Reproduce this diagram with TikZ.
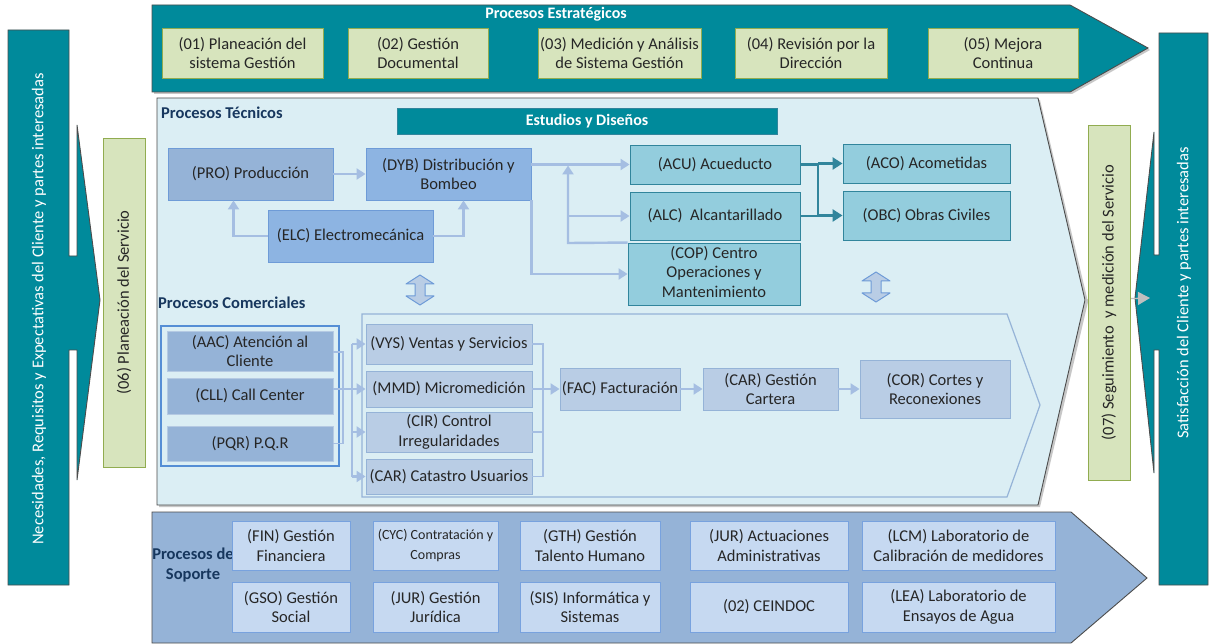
\documentclass[tikz,border=0pt]{standalone}
\usepackage{fontspec}
\setmainfont{Carlito}
\usetikzlibrary{arrows.meta,calc}
\definecolor{tealc}{RGB}{0,138,155}
\definecolor{greenf}{RGB}{215,228,189}
\definecolor{greenb}{RGB}{145,172,80}
\definecolor{techf}{RGB}{219,238,244}
\definecolor{prof}{RGB}{149,179,215}
\definecolor{dybf}{RGB}{141,180,226}
\definecolor{blueb}{RGB}{110,155,215}
\definecolor{tboxf}{RGB}{147,205,221}
\definecolor{tboxb}{RGB}{49,133,156}
\definecolor{midf}{RGB}{185,205,229}
\definecolor{midb}{RGB}{149,179,215}
\definecolor{supf}{RGB}{149,179,215}
\definecolor{sboxf}{RGB}{198,217,241}
\definecolor{sboxb}{RGB}{120,162,222}
\definecolor{arrc}{RGB}{165,190,226}
\definecolor{txt}{RGB}{38,38,38}
\definecolor{navy}{RGB}{23,55,94}
\definecolor{grpb}{RGB}{85,142,213}
\newcommand\fs{\fontsize{16.5}{19.5}\selectfont}
\newcommand\bx[6]{\node[#1, minimum width={#4-#2}, minimum height={#5-#3}] (#6) at ({(#2+#4)/2},{(#3+#5)/2})}
\newcommand\dblarrow[3]{\draw[fill=midf,draw=blueb,line width=1pt,line join=round]
  (#1,#2) -- ({#1+14},{#2+9}) -- ({#1+5},{#2+9}) -- ({#1+5},{#3-9}) -- ({#1+14},{#3-9}) -- (#1,#3)
  -- ({#1-14},{#3-9}) -- ({#1-5},{#3-9}) -- ({#1-5},{#2+9}) -- ({#1-14},{#2+9}) -- cycle;}
\begin{document}
\begin{tikzpicture}[x=1pt,y=-1pt,
  base/.style={align=center,text=txt,inner sep=1pt,font=\fs,line width=0.9pt},
  gbox/.style={base,fill=greenf,draw=greenb},
  pbox/.style={base,fill=prof,draw=blueb},
  dbox/.style={base,fill=dybf,draw=blueb},
  tbox/.style={base,fill=tboxf,draw=tboxb},
  cbox/.style={base,fill=prof,draw=prof!70!white},
  mbox/.style={base,fill=midf,draw=midb},
  sbox/.style={base,fill=sboxf,draw=sboxb},
  lbline/.style={draw=arrc,line width=2.4pt},
  lbarrow/.style={lbline,-{Triangle[length=9pt,width=11pt]}},
  thin/.style={draw=arrc,line width=1.4pt},
  dkline/.style={draw=tboxb,line width=2.6pt},
  dkarrow/.style={dkline,-{Triangle[length=10pt,width=12pt]}},
  title/.style={font=\fontsize{16.5}{19.5}\selectfont\bfseries,text=navy,inner sep=0pt},
  shadow/.style={fill=black!22,draw=none},
  outl/.style={draw=black!70,line width=0.9pt}
]
\useasboundingbox (0,0) rectangle (1213,644);
\fill[white] (0,0) rectangle (1213,644);

% ---- left bar
\draw[outl,fill=tealc] (8,30) -- (69,30) -- (69,256) -- (77,256) -- (77,125) -- (100,300) -- (77,480) -- (77,350) -- (69,350) -- (69,585) -- (8,585) -- cycle;
\node[rotate=90,text=white,font=\fs,inner sep=0pt] (necesidades) at (39,309) {Necesidades, Requisitos y Expectativas del Cliente y partes interesadas};

% ---- right bar
\draw[outl,fill=tealc] (1208,33) -- (1159,33) -- (1159,255) -- (1154,255) -- (1154,132) -- (1135,298) -- (1154,473) -- (1154,350) -- (1159,350) -- (1159,585) -- (1208,585) -- cycle;
\node[rotate=90,text=white,font=\fs,inner sep=0pt] (satisf) at (1184,293) {Satisfacción del Cliente y partes interesadas};

% ---- strategic chevron
\path[shadow] (154,7) -- (1072,7) -- (1150,50) -- (1072,94) -- (154,94) -- cycle;
\draw[outl,fill=tealc] (152,5) -- (1070,5) -- (1148,48) -- (1070,92) -- (152,92) -- cycle;
\node[font=\fontsize{16}{19}\selectfont\bfseries,text=white,inner sep=0pt] (estrat) at (556,14) {Procesos Estratégicos};
\bx{gbox}{162}{28}{323}{78}{s01} {(01) Planeación del\\sistema Gestión};
\bx{gbox}{348}{28}{488}{78}{s02} {(02) Gestión\\Documental};
\bx{gbox}{538}{28}{701}{78}{s03} {(03) Medición y Análisis\\de Sistema Gestión};
\bx{gbox}{735}{28}{887}{78}{s04} {(04) Revisión por la\\Dirección};
\bx{gbox}{928}{28}{1078}{78}{s05} {(05) Mejora\\Continua};

% ---- technical chevron
\path[shadow] (159,100) -- (1040,100) -- (1088,302) -- (1040,507) -- (159,507) -- cycle;
\draw[outl,fill=techf] (157,98) -- (1038,98) -- (1085,300) -- (1038,505) -- (157,505) -- cycle;
\coordinate (ttip) at (1085,300);

% gray connector to right bar
\draw[draw=black!25,line width=1.3pt,-{Triangle[length=12pt,width=13pt]}] (ttip) -- (1150,298);

% (06) and (07)
\bx{gbox}{103}{138}{145}{467}{s06} {};
\node[rotate=90,font=\fs,text=txt,inner sep=0pt] (s06t) at (s06) {(06) Planeación del Servicio};
\bx{gbox}{1088}{125}{1130}{480}{s07} {};
\node[rotate=90,font=\fs,text=txt,inner sep=0pt] (s07t) at (s07) {(07) Seguimiento\ \ y medición del Servicio};

\node[title,anchor=west] (ptec) at (161,113) {Procesos Técnicos};
\bx{base,fill=tealc,draw=tboxb,text=white,font=\fontsize{16}{19}\selectfont\bfseries}{397}{108}{777}{134}{estudios} {Estudios y Diseños};

\bx{pbox}{168}{148}{333}{200}{PRO} {(PRO) Producción};
\bx{dbox}{366}{148}{531}{200}{DYB} {(DYB) Distribución y\\Bombeo};
\bx{dbox}{268}{210}{433}{262}{ELC} {(ELC) Electromecánica};

\bx{tbox}{630}{145}{800}{184}{ACU} {(ACU) Acueducto};
\bx{tbox}{630}{192}{800}{240}{ALC} {(ALC)\ \ Alcantarillado};
\bx{tbox}{628}{243}{800}{305}{COP} {\raisebox{-7pt}{\begin{tabular}{@{}c@{}}(COP) Centro\\Operaciones y\\Mantenimiento\end{tabular}}};
\bx{tbox}{843}{144}{1010}{183}{ACO} {(ACO) Acometidas};
\bx{tbox}{843}{191}{1010}{240}{OBC} {(OBC) Obras Civiles};

% technical connectors
\draw[lbarrow] (PRO.east) -- (DYB.west);
\draw[lbarrow] (ELC.west) -| ([xshift=-17pt]PRO.south);
\draw[lbarrow] (ELC.east) -| ([xshift=15pt]DYB.south);
\draw[lbarrow] (DYB.east |- ACU.west) -- (ACU.west);
\coordinate (vj) at (568,243);
\draw[lbarrow] (COP.north west) -- (vj) -- ([yshift=-1pt]vj |- ACU.west);
\draw[lbarrow] (vj |- ALC.west) -- (ALC.west);
\draw[lbarrow] (DYB.south east) |- (COP.west);
\coordinate (tj) at (818,0);
\draw[dkline] (ACU.east) -- (tj |- ACU.east);
\draw[dkline] (ALC.east) -- (tj |- ALC.east);
\draw[dkline] (tj |- ACU.east) -- (tj |- OBC.west);
\draw[dkarrow] (tj |- ACO.west) -- (ACO.west);
\draw[dkarrow] (tj |- OBC.west) -- (OBC.west);

\dblarrow{420}{275}{305}
\dblarrow{876}{272}{302}

% ---- commercial
\node[title,anchor=west] (pcom) at (158,303) {Procesos Comerciales};
\draw[fill=techf,draw=midb,line width=1.2pt] (362,314) -- (1007,314) -- (1040,405) -- (1007,497) -- (362,497) -- cycle;
\draw[draw=grpb,line width=1.1pt] (161,326) rectangle (339,466);
\bx{cbox}{167}{331}{333}{371}{AAC} {(AAC) Atención al\\Cliente};
\bx{cbox}{167}{378}{333}{414}{CLL} {(CLL) Call Center};
\bx{cbox}{167}{426}{333}{461}{PQR} {(PQR) P.Q.R};

\bx{mbox}{366}{324}{532}{364}{VYS} {(VYS) Ventas y Servicios};
\bx{mbox}{366}{371}{532}{407}{MMD} {(MMD) Micromedición};
\bx{mbox}{366}{412}{532}{452}{CIR} {(CIR) Control\\Irregularidades};
\bx{mbox}{366}{459}{532}{494}{CAT} {(CAR) Catastro Usuarios};

\bx{mbox}{560}{368}{680}{410}{FAC} {(FAC) Facturación};
\bx{mbox}{703}{368}{838}{410}{CARG} {(CAR) Gestión\\Cartera};
\bx{mbox}{860}{360}{1010}{418}{COR} {(COR) Cortes y\\Reconexiones};

\coordinate (c1) at (343,0);
\coordinate (c2) at (352,0);
\coordinate (c3) at (543,0);
\draw[thin] (AAC.east |- 0,352) -- (c1 |- 0,352) -- (c1 |- PQR.east) -- (PQR.east);
\draw[lbarrow] (CLL.east |- MMD.west) -- (MMD.west);
\draw[thin] (c2 |- VYS.west) -- (c2 |- CAT.west);
\draw[lbarrow] (c2 |- VYS.west) -- (VYS.west);
\draw[lbarrow] (c2 |- CIR.west) -- (CIR.west);
\draw[lbarrow] (c2 |- CAT.west) -- (CAT.west);
\draw[thin] (VYS.east) -- (c3 |- VYS.east) -- (c3 |- CAT.east) -- (CAT.east);
\draw[thin] (CIR.east) -- (c3 |- CIR.east);
\draw[lbarrow] (MMD.east) -- (FAC.west);
\draw[lbarrow] (FAC.east) -- (CARG.west);
\draw[lbarrow] (CARG.east) -- (COR.west);

% ---- support chevron
\draw[outl,fill=supf] (152,512) -- (1071,512) -- (1147,578) -- (1071,643) -- (152,643) -- cycle;
\node[title,align=center] (psop) at (193,565) {Procesos de\\Soporte};
\bx{sbox}{232}{521}{350}{570}{FIN} {(FIN) Gestión\\Financiera};
\bx{sbox}{373}{521}{498}{570}{CYC} {\fontsize{14}{19}\selectfont(CYC) Contratación y\\\fontsize{14}{19}\selectfont Compras};
\bx{sbox}{520}{521}{660}{570}{GTH} {(GTH) Gestión\\Talento Humano};
\bx{sbox}{690}{521}{848}{570}{JURA} {(JUR) Actuaciones\\Administrativas};
\bx{sbox}{862}{521}{1055}{570}{LCM} {(LCM) Laboratorio de\\Calibración de medidores};
\bx{sbox}{232}{582}{350}{632}{GSO} {(GSO) Gestión\\Social};
\bx{sbox}{373}{582}{498}{632}{JUR} {(JUR) Gestión\\Jurídica};
\bx{sbox}{520}{582}{660}{632}{SIS} {(SIS) Informática y\\Sistemas};
\bx{sbox}{690}{582}{848}{632}{CEI} {\raisebox{-6pt}{(02) CEINDOC}};
\bx{sbox}{862}{582}{1055}{632}{LEA} {(LEA) Laboratorio de\\Ensayos de Agua};
\end{tikzpicture}
\end{document}
